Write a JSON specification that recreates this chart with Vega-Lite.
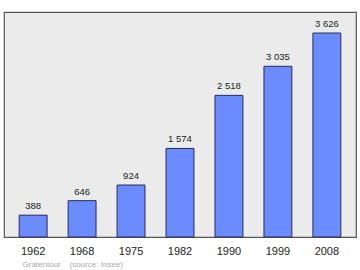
{
  "$schema": "https://vega.github.io/schema/vega-lite/v6.json",
  "width": 352,
  "height": 225,
  "autosize": "none",
  "padding": {"left": 4, "top": 12, "right": 4, "bottom": 33},
  "background": "white",
  "data": {
    "values": [
      {"year": "1962", "population": 388},
      {"year": "1968", "population": 646},
      {"year": "1975", "population": 924},
      {"year": "1982", "population": 1574},
      {"year": "1990", "population": 2518},
      {"year": "1999", "population": 3035},
      {"year": "2008", "population": 3626}
    ]
  },
  "encoding": {
    "x": {
      "field": "year",
      "type": "ordinal",
      "sort": null,
      "scale": {"paddingInner": 0.43, "paddingOuter": 0.31},
      "axis": {
        "domain": false,
        "ticks": false,
        "labelAngle": 0,
        "labelFontSize": 11,
        "labelColor": "#222",
        "labelPadding": 8,
        "labelFont": "Liberation Sans",
        "title": "Gratentour\u00a0\u00a0\u00a0\u00a0(source: Insee)",
        "titleFont": "Liberation Sans",
        "titleFontSize": 8,
        "titleFontWeight": "normal",
        "titleColor": "#aaaaaa",
        "titleAnchor": "start",
        "titleAlign": "left",
        "titleX": 18,
        "titleY": 29,
        "titleBaseline": "alphabetic"
      }
    },
    "y": {
      "field": "population",
      "type": "quantitative",
      "scale": {"domain": [0, 4000], "nice": false},
      "axis": null
    }
  },
  "layer": [
    {
      "mark": {"type": "bar", "fill": "#6b8cff", "stroke": "#2a2a5a", "strokeWidth": 1}
    },
    {
      "mark": {"type": "text", "baseline": "alphabetic", "dy": -6, "fontSize": 9.5, "font": "Liberation Sans", "color": "#222"},
      "encoding": {
        "text": {"field": "population", "type": "quantitative", "format": ",d"}
      }
    }
  ],
  "config": {
    "locale": {
      "number": {"decimal": ",", "thousands": " ", "grouping": [3], "currency": ["", " €"]}
    },
    "view": {"fill": "#ebebeb", "stroke": "#555555", "strokeWidth": 1.2},
    "axis": {"grid": false}
  }
}
